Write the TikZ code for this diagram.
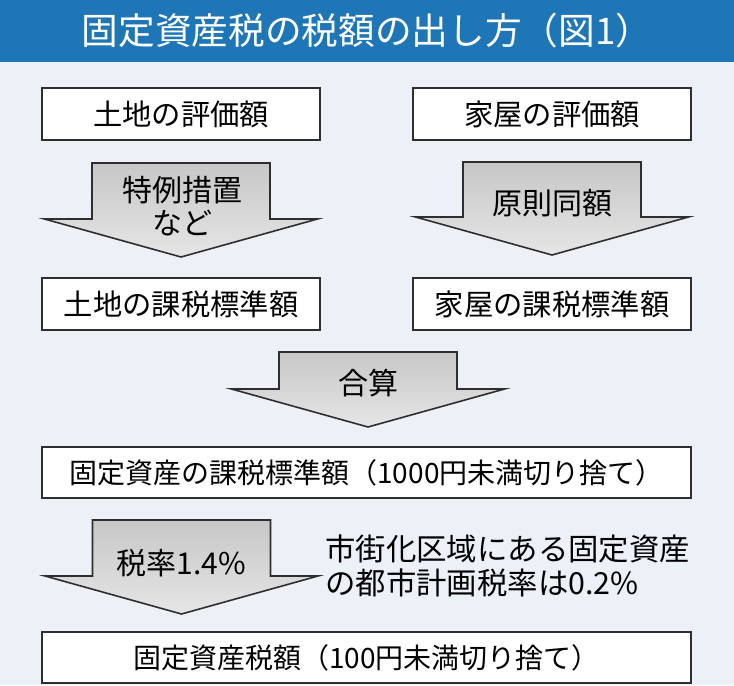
\documentclass[tikz,border=0pt]{standalone}
\usepackage{fontspec}
\setmainfont{Noto Sans CJK JP}
\definecolor{bgc}{HTML}{EBF1F7}
\definecolor{banner}{HTML}{1F76B6}
\definecolor{edge}{HTML}{2E2E2E}
\newcommand\blockarrow[3]{%
  \draw[barrow] ({#1-89},#2) -- ({#1+89},#2) -- ({#1+89},{#3-38}) -- ({#1+136.5},{#3-38})
    -- (#1,#3) -- ({#1-136.5},{#3-38}) -- ({#1-89},{#3-38}) -- cycle;}
\begin{document}
\begin{tikzpicture}[x=0.75pt,y=-0.75pt,
  box/.style={draw=edge, line width=1.4pt, fill=white, minimum width=208.5pt,
    minimum height=39pt, inner sep=0pt, font=\fontsize{22}{26}\selectfont},
  wide/.style={box, minimum width=486.75pt, minimum height=38pt,
    font=\fontsize{21}{25}\selectfont},
  barrow/.style={draw=edge, line width=1.2pt, top color=black!22,
    bottom color=black!10, line join=miter},
  lbl/.style={font=\fontsize{22.5}{24.75}\selectfont, inner sep=0pt, align=center},
  note/.style={font=\fontsize{22.8}{25.5}\selectfont, inner sep=0pt, align=left}]
\useasboundingbox (0,0) rectangle (734,685);
\fill[bgc] (0,0) rectangle (734,685);
\fill[banner] (0,0) rectangle (734,62);
\node[text=white, font=\fontsize{27.5}{31}\selectfont, inner sep=0pt] (title) at (367,31)
  {固定資産税の税額の出し方（図1）};
% boxes
\node[box] (landval) at (181,114) {土地の評価額};
\node[box] (houseval) at (552,114) {家屋の評価額};
\node[box] (landstd) at (181,304) {土地の課税標準額};
\node[box] (housestd) at (552,304) {家屋の課税標準額};
\node[wide] (totstd) at (366.5,472.5) {固定資産の課税標準額（1000円未満切り捨て）};
\node[wide] (tax) at (366.5,657.5) {固定資産税額（100円未満切り捨て）};
% block arrows
\blockarrow{181}{163}{257}
\blockarrow{552}{162}{255}
\blockarrow{368}{352}{427}
\blockarrow{181.5}{520}{614}
% arrow labels
\node[lbl] (a1) at (182,206) {特例措置\\など};
\node[lbl] (a2) at (552,203) {原則同額};
\node[lbl] (a3) at (368,383) {合算};
\node[lbl] (a4) at (181,563) {税率1.4\%};
\node[note, anchor=west] (n1) at (325,566) {市街化区域にある固定資産\\の都市計画税率は0.2\%};
\end{tikzpicture}
\end{document}
